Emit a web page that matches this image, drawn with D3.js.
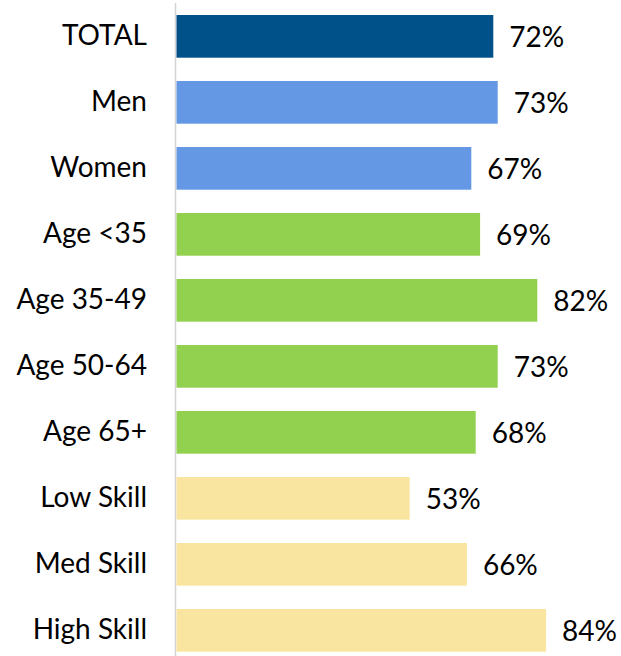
<!DOCTYPE html>
<html>
<head>
<meta charset="utf-8">
<script src="https://cdn.jsdelivr.net/npm/d3@7"></script>
<style>
  html, body { margin: 0; padding: 0; background: #fff; }
  svg { display: block; }
</style>
</head>
<body>
<svg id="chart" width="621" height="656"></svg>
<script>
const categories = ["TOTAL", "Men", "Women", "Age <35", "Age 35-49", "Age 50-64", "Age 65+", "Low Skill", "Med Skill", "High Skill"];
const values = [72, 73, 67, 69, 82, 73, 68, 53, 66, 84];
const groups = ["total", "gender", "gender", "age", "age", "age", "age", "skill", "skill", "skill"];
const groupNames = ["total", "gender", "age", "skill"];
const groupColors = ["#00518A", "#6498E4", "#92D050", "#F9E5A0"];

const svg = d3.select("#chart");
const font = "Lato, 'Open Sans', sans-serif";

const x = d3.scaleLinear().domain([0, 100]).range([176.5, 616.5]);
const y = d3.scaleBand().domain(categories).range([15, 651.7]).paddingInner(0.353).paddingOuter(0);
const color = d3.scaleOrdinal().domain(groupNames).range(groupColors);

const data = categories.map((c, i) => ({ cat: c, value: values[i], group: groups[i] }));

// vertical axis line
svg.append("line")
  .attr("x1", 175.5).attr("x2", 175.5)
  .attr("y1", 3).attr("y2", 656)
  .attr("stroke", "#d4d4d4").attr("stroke-width", 1.5);

// bars
svg.append("g").selectAll("rect")
  .data(data).join("rect")
  .attr("x", x(0))
  .attr("y", d => y(d.cat))
  .attr("width", d => x(d.value) - x(0))
  .attr("height", y.bandwidth())
  .attr("fill", d => color(d.group));

// category labels via axis
const axis = d3.axisLeft(y).tickSize(0).tickPadding(29.5);
const gAxis = svg.append("g").attr("transform", "translate(176.5,0)").call(axis);
gAxis.select(".domain").remove();
gAxis.selectAll("text")
  .attr("dy", null)
  .attr("y", 9)
  .style("font-family", font)
  .style("font-size", "28px")
  .attr("fill", "#000");

// value labels
svg.append("g").selectAll("text")
  .data(data).join("text")
  .attr("x", d => x(d.value) + 16)
  .attr("y", d => y(d.cat) + y.bandwidth() / 2 + 11)
  .style("font-family", font)
  .style("font-size", "28px")
  .attr("fill", "#000")
  .text(d => d.value + "%");
</script>
</body>
</html>
